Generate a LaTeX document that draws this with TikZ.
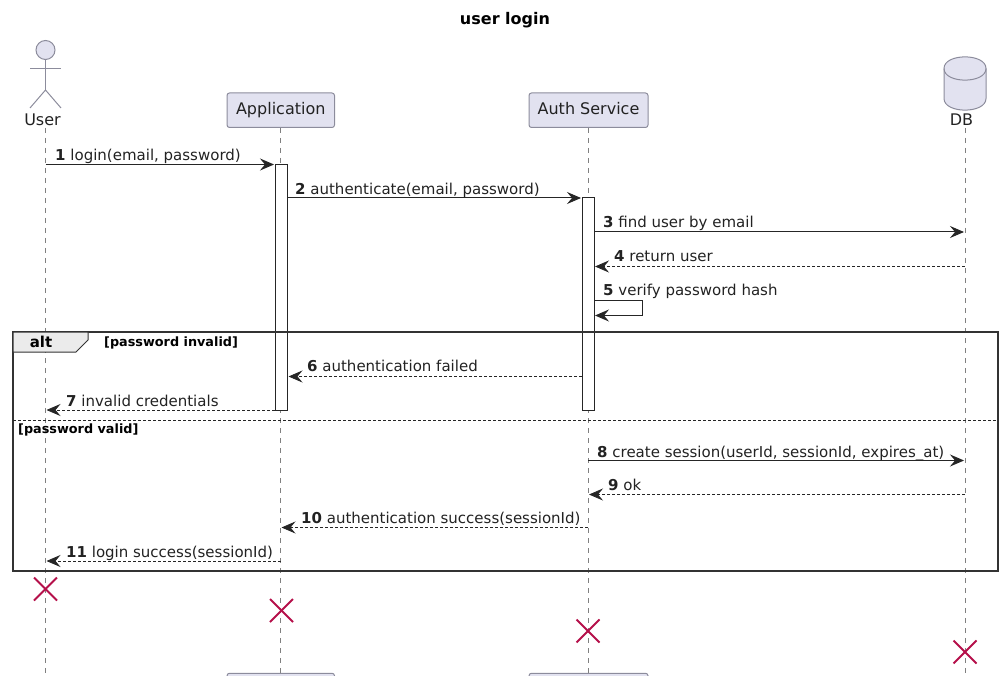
\documentclass[tikz,border=0pt]{standalone}
\usepackage{fontspec}
\setmainfont{DejaVu Sans}
\usetikzlibrary{arrows.meta,shapes.geometric}
\definecolor{partfill}{HTML}{E2E2F0}
\definecolor{partline}{HTML}{8C8C9C}
\definecolor{lifeline}{HTML}{808080}
\definecolor{inktext}{HTML}{222222}
\definecolor{killmark}{HTML}{B5104A}
\tikzstyle{part}=[draw=partline,fill=partfill,rounded corners=2.5pt,line width=1pt,minimum height=34.5pt,inner sep=0pt,text=inktext,text height=12pt,text depth=3pt,font=\fontsize{16}{18}\selectfont]
\tikzstyle{figure}=[draw=partline,fill=partfill,line width=1pt]
\tikzstyle{limb}=[draw=partline,line width=1pt]
\tikzstyle{life}=[draw=lifeline,line width=.8pt,dash pattern=on 5pt off 5pt]
\tikzstyle{bar}=[draw=black!85,fill=white,line width=1pt,minimum width=12pt,inner sep=0pt]
\tikzstyle{msg}=[draw=black!85,line width=1pt,-{Stealth[length=14pt,width=12pt,inset=5pt]}]
\tikzstyle{ret}=[msg,densely dashed,line width=.8pt]
\tikzstyle{lbl}=[anchor=base west,inner sep=0pt,yshift=-1.5pt,text=inktext,font=\fontsize{15}{17}\selectfont]
\tikzstyle{guard}=[anchor=base west,inner sep=0pt,yshift=-1pt,text=black,font=\fontsize{12.8}{15}\selectfont\bfseries]
\tikzstyle{kill}=[draw=killmark,line width=2pt]
\begin{document}
\begin{tikzpicture}[x=1pt,y=-1pt]
\useasboundingbox (0,0) rectangle (1006,676);
\clip (0,0) rectangle (1006,676);
\node (title) at (505,20) [text=black,font=\fontsize{16}{18}\selectfont\bfseries] {user login};
% lifelines
\coordinate (Utop) at (45.5,128);
\coordinate (Ubot) at (45.5,676);
\coordinate (Atop) at (280.5,128);
\coordinate (Abot) at (280.5,676);
\coordinate (Stop) at (588,128);
\coordinate (Sbot) at (588,676);
\coordinate (Dtop) at (965,128);
\coordinate (Dbot) at (965,676);
\draw [life] (Utop) -- (Ubot);
\draw [life] (Atop) -- (Abot);
\draw [life] (Stop) -- (Sbot);
\draw [life] (Dtop) -- (Dbot);
% participants
\node (head) [figure,circle,minimum size=19pt,inner sep=0pt] at (45.5,50) {};
\coordinate (armL) at (30,68.5);
\coordinate (armR) at (61,68.5);
\coordinate (hip) at (45.5,90);
\coordinate (legL) at (30,108);
\coordinate (legR) at (61,108);
\draw [limb] (head.south) -- (hip);
\draw [limb] (armL) -- (armR);
\draw [limb] (legL) -- (hip) -- (legR);
\node (user) at (42.5,119.5) [inner sep=0pt,text=inktext,font=\fontsize{16}{18}\selectfont] {User};
\node (app) [part,minimum width=107.5pt] at (280.75,110.25) {Application};
\node (auth) [part,minimum width=119pt] at (588.5,110.25) {Auth Service};
\node (append) [part,minimum width=107.5pt] at (280.75,690.5) {};
\node (authend) [part,minimum width=119pt] at (588.5,690.5) {};
\draw [figure] (944,68.5) .. controls (944,53) and (986,53) .. (986,68.5) -- (986,98.5) .. controls (986,114) and (944,114) .. (944,98.5) -- cycle;
\draw [limb] (944,68.5) .. controls (944,84) and (986,84) .. (986,68.5);
\node (db) at (961.5,119.5) [inner sep=0pt,text=inktext,font=\fontsize{16}{18}\selectfont] {DB};
% activations
\node (appbar) [bar,minimum height=245pt] at (281.5,287.5) {};
\node (authbar) [bar,minimum height=212pt] at (588,304) {};
% alt frame
\draw [black!80,line width=2pt] (13,332) rectangle (998,571);
\draw [black!80,fill=black!8,line width=1pt] (13,332) -- (88,332) -- (88,340) -- (76,352) -- (13,352) -- cycle;
\node (alt) at (41,342) [inner sep=0pt,text=black,font=\fontsize{15}{17}\selectfont\bfseries] {alt};
\node (inv) [guard] at (104,345) {[password invalid]};
\coordinate (sepL) at (13,420.5);
\coordinate (sepR) at (998,420.5);
\draw [black!85,line width=.8pt,densely dashed] (sepL) -- (sepR);
\node (val) [guard] at (18,432) {[password valid]};
% messages
\coordinate (a1) at (45.5,164.5);
\coordinate (b1) at (274,164.5);
\draw [msg] (a1) -- (b1);
\node (m1) [lbl] at (55,159) {\textbf{1} login(email, password)};
\coordinate (a2) at (287.5,198);
\coordinate (b2) at (581,198);
\draw [msg] (a2) -- (b2);
\node (m2) [lbl] at (295,193) {\textbf{2} authenticate(email, password)};
\coordinate (a3) at (594,232);
\coordinate (b3) at (964,232);
\draw [msg] (a3) -- (b3);
\node (m3) [lbl] at (603,226.5) {\textbf{3} find user by email};
\coordinate (a4) at (965,266.5);
\coordinate (b4) at (595,266.5);
\draw [ret] (a4) -- (b4);
\node (m4) [lbl] at (614,260) {\textbf{4} return user};
\coordinate (a5) at (594,300);
\coordinate (c5) at (642.5,300);
\coordinate (d5) at (642.5,315.5);
\coordinate (b5) at (595,315.5);
\draw [msg] (a5) -- (c5) -- (d5) -- (b5);
\node (m5) [lbl] at (603,293.5) {\textbf{5} verify password hash};
\coordinate (a6) at (582,376.5);
\coordinate (b6) at (288.5,376.5);
\draw [ret] (a6) -- (b6);
\node (m6) [lbl] at (307,370) {\textbf{6} authentication failed};
\coordinate (a7) at (275,410);
\coordinate (b7) at (46.5,410);
\draw [ret] (a7) -- (b7);
\node (m7) [lbl] at (66,404.5) {\textbf{7} invalid credentials};
\coordinate (a8) at (588,460.5);
\coordinate (b8) at (964,460.5);
\draw [msg] (a8) -- (b8);
\node (m8) [lbl] at (597,455.5) {\textbf{8} create session(userId, sessionId, expires\_at)};
\coordinate (a9) at (965,494.5);
\coordinate (b9) at (589,494.5);
\draw [ret] (a9) -- (b9);
\node (m9) [lbl] at (608,489) {\textbf{9} ok};
\coordinate (a10) at (588,527.5);
\coordinate (b10) at (281.5,527.5);
\draw [ret] (a10) -- (b10);
\node (m10) [lbl] at (301,522) {\textbf{10} authentication success(sessionId)};
\coordinate (a11) at (280.5,561);
\coordinate (b11) at (46.5,561);
\draw [ret] (a11) -- (b11);
\node (m11) [lbl] at (66,556) {\textbf{11} login success(sessionId)};
% destroy marks
\foreach \name/\px/\py in {killU/45.5/589,killA/281.5/610.5,killS/588/631,killD/965/652}{
  \coordinate (\name) at (\px,\py);
  \draw [kill] ([shift={(-11.5,-11.5)}]\name) -- ([shift={(11.5,11.5)}]\name);
  \draw [kill] ([shift={(-11.5,11.5)}]\name) -- ([shift={(11.5,-11.5)}]\name);
}
\end{tikzpicture}
\end{document}
